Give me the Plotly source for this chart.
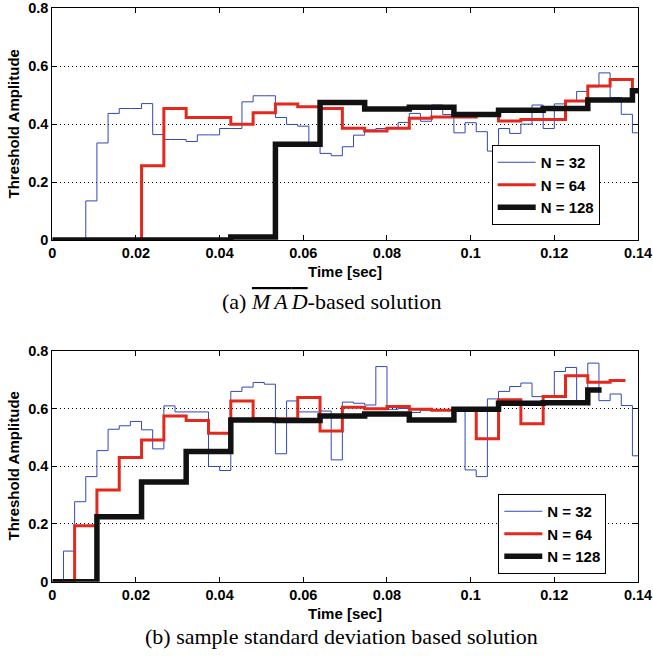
import plotly.graph_objects as go

FS = 12000.0  # sampling rate [Hz]
FRAMES = [32, 64, 128]
NAMES = ["N = 32", "N = 64", "N = 128"]
COLORS = ["#3149b8", "#e3291d", "#111111"]
WIDTHS = [1, 3, 5.5]

# (a) MAD-based solution: one value per frame
mad_32 = [0, 0, 0, 0.135, 0.335, 0.437, 0.454, 0.454, 0.471, 0.364,
          0.347, 0.347, 0.340, 0.363, 0.363, 0.385, 0.385, 0.477, 0.498, 0.498,
          0.423, 0.399, 0.393, 0.330, 0.299, 0.291, 0.322, 0.362, 0.380, 0.385,
          0.385, 0.406, 0.437, 0.410, 0.466, 0.433, 0.370, 0.405, 0.374, 0.307,
          0.385, 0.368, 0.400, 0.466, 0.385, 0.470, 0.480, 0.513, 0.529, 0.577,
          0.492, 0.434, 0.370]
mad_64 = [0, 0, 0, 0, 0.256, 0.454, 0.423, 0.423, 0.400, 0.439,
          0.470, 0.460, 0.454, 0.386, 0.376, 0.386, 0.420, 0.425, 0.425, 0.430,
          0.411, 0.416, 0.416, 0.480, 0.532, 0.554, 0.520]
mad_128 = [0, 0, 0, 0, 0.010, 0.331, 0.475, 0.452, 0.458, 0.433,
           0.448, 0.454, 0.483, 0.515]
mad_end = [0.1414, 0.1440, 0.1494]

# (b) sample standard deviation based solution
std_32 = [0, 0.106, 0.277, 0.364, 0.454, 0.528, 0.540, 0.555, 0.526, 0.460,
          0.609, 0.588, 0.588, 0.588, 0.399, 0.385, 0.659, 0.674, 0.690, 0.684,
          0.443, 0.626, 0.588, 0.588, 0.591, 0.422, 0.622, 0.618, 0.612, 0.745,
          0.597, 0.600, 0.586, 0.594, 0.594, 0.594, 0.597, 0.387, 0.364, 0.633,
          0.659, 0.676, 0.688, 0.641, 0.641, 0.728, 0.742, 0.624, 0.757, 0.627,
          0.650, 0.610, 0.436]
std_64 = [0, 0.194, 0.318, 0.430, 0.491, 0.574, 0.558, 0.514, 0.626, 0.564,
          0.564, 0.638, 0.522, 0.604, 0.599, 0.607, 0.597, 0.594, 0.598, 0.495,
          0.630, 0.547, 0.641, 0.713, 0.691, 0.697]
std_128 = [0, 0.225, 0.345, 0.451, 0.560, 0.558, 0.574, 0.581, 0.560, 0.597,
           0.618, 0.620, 0.664]
std_end = [0.1414, 0.1370, 0.1313]

X_TICKS = [0, 0.02, 0.04, 0.06, 0.08, 0.1, 0.12, 0.14]
X_TICK_TEXT = ["0", "0.02", "0.04", "0.06", "0.08", "0.1", "0.12", "0.14"]
Y_TICKS = [0, 0.2, 0.4, 0.6, 0.8]
Y_TICK_TEXT = ["0", "0.2", "0.4", "0.6", "0.8"]

CAPTION_A = ("(a) <i><span style='text-decoration:overline;letter-spacing:4px'>MA</span>"
             "<span style='text-decoration:overline'>D</span></i>-based solution")
CAPTION_B = "(b) sample standard deviation based solution"
X_TITLE = "Time [sec]"
Y_TITLE = "Threshold Amplitude"


def stairs(values, n, t_end):
    dt = n / FS
    xs = [i * dt for i in range(len(values))] + [t_end]
    ys = list(values) + [values[-1]]
    return xs, ys


def bold(labels):
    return ["<b>%s</b>" % s for s in labels]


fig = go.Figure()
sets = [
    ([mad_32, mad_64, mad_128], mad_end, "x", "y", "legend"),
    ([std_32, std_64, std_128], std_end, "x2", "y2", "legend2"),
]
for series, ends, xa, ya, lg in sets:
    for vals, n, name, col, w, te in zip(series, FRAMES, NAMES, COLORS, WIDTHS, ends):
        xs, ys = stairs(vals, n, te)
        fig.add_trace(go.Scatter(x=xs, y=ys, mode="lines", name="<b>%s</b>" % name,
                                 line=dict(color=col, width=w, shape="hv"),
                                 xaxis=xa, yaxis=ya, legend=lg))

W, H = 653, 659
x0, x1 = 52.3 / W, 638 / W
tick_font = dict(family="Liberation Sans", size=14.5, color="black")

common_x = dict(range=[0, 0.140001], tickvals=X_TICKS, ticktext=bold(X_TICK_TEXT),
                ticks="inside", ticklen=5, tickcolor="black", showline=True,
                linecolor="black", linewidth=1, mirror="ticks", showgrid=False,
                zeroline=False, tickfont=tick_font, automargin=False,
                domain=[x0, x1])
common_y = dict(range=[0, 0.800001], tickvals=Y_TICKS, ticktext=bold(Y_TICK_TEXT),
                ticks="inside", ticklen=5, tickcolor="black", showline=True,
                linecolor="black", linewidth=1, mirror="ticks", showgrid=True,
                gridcolor="black", griddash="1px,3px", gridwidth=1,
                zeroline=False, tickfont=tick_font, automargin=False)

legend_common = dict(xanchor="left", yanchor="top", bgcolor="white",
                     bordercolor="black", borderwidth=1,
                     font=dict(family="Liberation Sans", size=15, color="black"),
                     tracegroupgap=0, itemwidth=38)

fig.update_layout(
    width=W, height=H, margin=dict(l=0, r=0, t=0, b=0),
    paper_bgcolor="white", plot_bgcolor="white",
    xaxis=dict(common_x, anchor="y"),
    yaxis=dict(common_y, anchor="x", domain=[(H - 240) / H, (H - 8.3) / H]),
    xaxis2=dict(common_x, anchor="y2"),
    yaxis2=dict(common_y, anchor="x2", domain=[(H - 581.7) / H, (H - 350.7) / H]),
    legend=dict(legend_common, x=491.7 / W, y=(H - 145) / H),
    legend2=dict(legend_common, x=498.3 / W, y=(H - 494) / H),
    showlegend=True,
)

lab_font = dict(family="Liberation Sans", size=15, color="black")
cap_font = dict(family="Liberation Serif", size=22, color="black")
ann = [
    dict(text="<b>%s</b>" % X_TITLE, x=345 / W, y=(H - 271.5) / H, font=lab_font),
    dict(text="<b>%s</b>" % X_TITLE, x=345 / W, y=(H - 613) / H, font=lab_font),
    dict(text="<b>%s</b>" % Y_TITLE, x=12.5 / W, y=(H - 124) / H, font=lab_font, textangle=-90),
    dict(text="<b>%s</b>" % Y_TITLE, x=12.5 / W, y=(H - 466) / H, font=lab_font, textangle=-90),
    dict(text=CAPTION_A, x=331 / W, y=(H - 301) / H, font=cap_font),
    dict(text=CAPTION_B, x=342 / W, y=(H - 636) / H, font=cap_font),
]
for a in ann:
    fig.add_annotation(xref="paper", yref="paper", showarrow=False,
                       xanchor="center", yanchor="middle", **a)

fig.write_html("out.html", config={"displayModeBar": False},
               post_script="document.body.style.margin='0px';")
